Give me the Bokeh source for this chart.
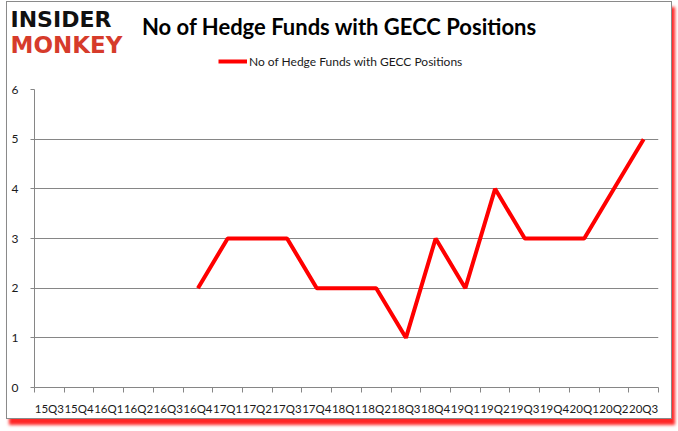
from bokeh.plotting import figure
from bokeh.layouts import column
from bokeh.models import (Range1d, FixedTicker, Label, Legend, LegendItem,
                          ColumnDataSource)
from bokeh.embed import file_html
from bokeh.resources import INLINE

# ---- data ----
quarters = ["15Q3", "15Q4", "16Q1", "16Q2", "16Q3", "16Q4", "17Q1", "17Q2",
            "17Q3", "17Q4", "18Q1", "18Q2", "18Q3", "18Q4", "19Q1", "19Q2",
            "19Q3", "19Q4", "20Q1", "20Q2", "20Q3"]
hedge_funds = [None, None, None, None, None, 2, 3, 3, 3, 2, 2, 2, 1, 3, 2, 4,
               3, 3, 3, 4, 5]
y_ticks = [0, 1, 2, 3, 4, 5, 6]
title_text = "No of Hedge Funds with GECC Positions"
series_name = "No of Hedge Funds with GECC Positions"

GRAY = "#868686"
TXT = "#1a1a1a"
FONT = "Lato"
W = 664
HEAD_H = 75

# ---------------- header (title, logo, legend) ----------------
head = figure(width=W, height=HEAD_H, output_backend="svg", toolbar_location=None,
              x_range=Range1d(0, W), y_range=Range1d(HEAD_H, 0),
              min_border=0, min_border_left=0, min_border_right=0,
              min_border_top=0, min_border_bottom=0)
head.axis.visible = False
head.grid.visible = False
head.outline_line_color = None
head.border_fill_color = "white"

head.add_layout(Label(x=332, y=24, text=title_text, text_align="center",
                      text_baseline="alphabetic", text_font=FONT,
                      text_font_style="bold", text_font_size="22px",
                      text_color="#000000"))
head.add_layout(Label(x=3, y=17, text="INSIDER", text_baseline="alphabetic",
                      text_font="DejaVu Sans", text_font_style="bold",
                      text_font_size="22px", text_color="#111111"))
head.add_layout(Label(x=3, y=42, text="MONKEY", text_baseline="alphabetic",
                      text_font="DejaVu Sans", text_font_style="bold",
                      text_font_size="23px", text_color="#d63b2b"))

legend_src = ColumnDataSource(dict(x=[float("nan")], y=[float("nan")]))
lr = head.line("x", "y", source=legend_src, line_color="#ff0000", line_width=4)
legend = Legend(items=[LegendItem(label=series_name, renderers=[lr])],
                location=(211, 8), orientation="horizontal",
                padding=0, margin=0, spacing=0, border_line_color=None,
                background_fill_alpha=0, glyph_width=29, glyph_height=16,
                label_height=16, label_standoff=2,
                label_text_font=FONT, label_text_font_size="12px",
                label_text_color=TXT)
head.add_layout(legend, "center")

# ---------------- main chart ----------------
centers = [i + 0.5 for i in range(len(quarters))]
xs = [c for c, v in zip(centers, hedge_funds) if v is not None]
ys = [v for v in hedge_funds if v is not None]
src = ColumnDataSource(dict(x=xs, y=ys))

p = figure(width=W, height=416 - HEAD_H, output_backend="svg", toolbar_location=None,
           x_range=Range1d(0, len(quarters)), y_range=Range1d(0, 6),
           min_border_left=27, min_border_right=13, min_border_top=87 - HEAD_H,
           min_border_bottom=31, frame_width=624, frame_height=298)
p.outline_line_color = None
p.background_fill_color = "white"
p.border_fill_color = "white"

for fig in (head, p):
    try:
        fig.frame_align = False
    except Exception:
        pass

p.line("x", "y", source=src, line_color="#ff0000", line_width=4)

xa = p.xaxis[0]
xa.ticker = FixedTicker(ticks=centers,
                        minor_ticks=list(range(len(quarters) + 1)))
xa.major_label_overrides = {c: q for c, q in zip(centers, quarters)}
xa.major_tick_out = 0
xa.major_tick_in = 0
xa.minor_tick_out = 5
xa.minor_tick_in = 0
xa.minor_tick_line_color = GRAY
xa.axis_line_color = GRAY
xa.major_label_standoff = 9
xa.major_label_text_font = FONT
xa.major_label_text_font_size = "11.5px"
xa.major_label_text_color = TXT

ya = p.yaxis[0]
ya.ticker = FixedTicker(ticks=y_ticks)
ya.major_tick_out = 4
ya.major_tick_in = 0
ya.minor_tick_out = 0
ya.minor_tick_in = 0
ya.major_tick_line_color = GRAY
ya.axis_line_color = GRAY
ya.major_label_standoff = 12
ya.major_label_text_font = FONT
ya.major_label_text_font_size = "12px"
ya.major_label_text_color = TXT

p.xgrid.grid_line_color = None
p.ygrid.grid_line_color = GRAY
p.ygrid.ticker = FixedTicker(ticks=y_ticks)

layout = column(head, p, spacing=0,
                styles={"border": "1px solid #8a8a8a",
                        "margin-left": "6px", "margin-top": "1px",
                        "box-shadow": "3px 6px 3px rgba(255,0,0,0.85)",
                        "background": "white"})

open("out.html", "w").write(file_html(layout, INLINE))
